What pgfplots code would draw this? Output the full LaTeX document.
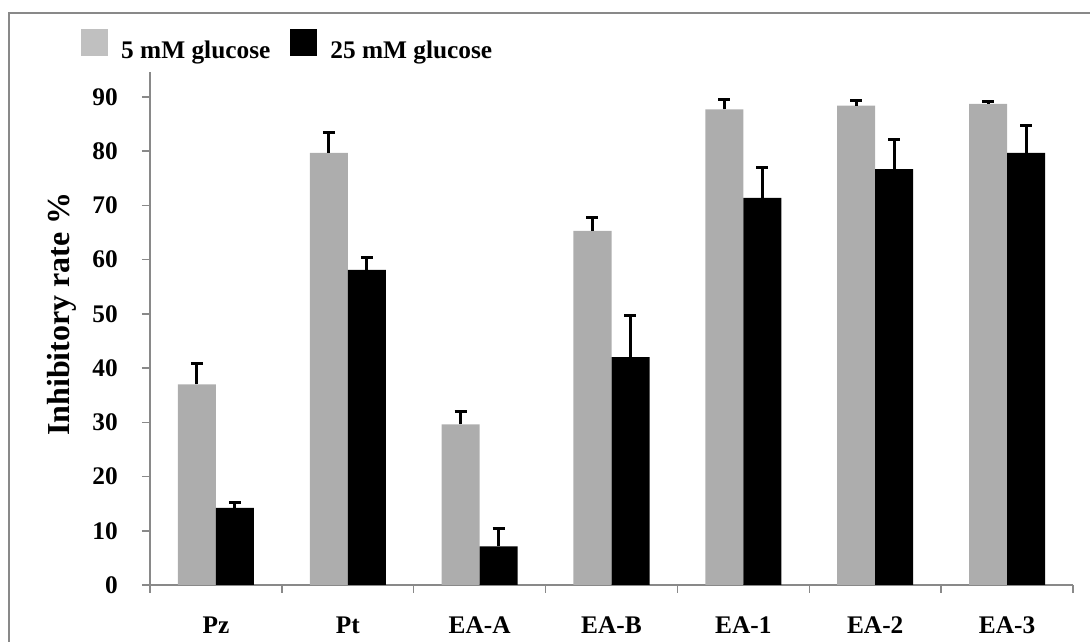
\documentclass[border=0pt]{standalone}
\usepackage{pgfplots}
\pgfplotsset{compat=1.18}
\usepackage{fontspec}
\setmainfont{Liberation Serif}
\definecolor{axgray}{HTML}{898989}
\definecolor{bargray}{HTML}{ADADAD}
\definecolor{leggray}{HTML}{C0C0C0}
\begin{document}
\begin{tikzpicture}
\draw[axgray, line width=1.4pt] (6.75pt,-20pt) -- (6.75pt,471.75pt) -- (830pt,471.75pt);
\begin{axis}[
  at={(112.5pt,42.75pt)}, anchor=south west,
  scale only axis, width=692.25pt, height=384.75pt,
  ybar=0pt, bar width=28.5pt,
  xmin=-0.5, xmax=6.5, ymin=0, ymax=94.6,
  xtick={0,...,6}, xticklabels={Pz,Pt,EA-A,EA-B,EA-1,EA-2,EA-3},
  minor xtick={-0.5,0.5,...,6.5},
  ytick={0,10,...,90},
  axis x line*=bottom, axis y line*=left,
  axis line style={axgray, line width=1.1pt, -},
  tick align=outside, major tick length=6pt, minor tick length=6pt,
  major x tick style={draw=none},
  minor x tick style={axgray, line width=1.1pt},
  ytick style={axgray, line width=1.1pt},
  /pgf/number format/assume math mode=true,
  tick label style={font=\bfseries\fontsize{19}{22}\selectfont, inner sep=0pt},
  yticklabel style={anchor=east, xshift=-18pt},
  xticklabel style={anchor=base, yshift=-30.75pt},
  ylabel={Inhibitory rate \%},
  ylabel style={font=\bfseries\fontsize{24}{28}\selectfont, at={(axis description cs:-0.0953,0.528)}, anchor=center},
  legend style={at={(axis description cs:-0.0748,1.054)}, anchor=west, draw=none, fill=none, inner sep=0pt,
    font=\bfseries\fontsize{19}{22}\selectfont, nodes={inner sep=0pt},
    /tikz/every odd column/.append style={column sep=9.75pt},
    /tikz/every even column/.append style={column sep=15pt}},
  legend columns=2,
  error bars/y dir=plus, error bars/y explicit,
  error bars/error bar style={black, line width=2.25pt},
  error bars/error mark options={black, line width=2.25pt, mark size=4.5pt, rotate=90},
]
\addplot[fill=bargray, draw=none,
  legend image code/.code={\fill[leggray] (0pt,-4pt) rectangle (20.25pt,16.25pt);}]
  coordinates {(0,37.0) +- (0,3.8) (1,79.7) +- (0,3.8) (2,29.6) +- (0,2.4) (3,65.3) +- (0,2.4)
               (4,87.7) +- (0,1.9) (5,88.4) +- (0,0.9) (6,88.7) +- (0,0.5)};
\addlegendentry{5 mM glucose}
\addplot[fill=black, draw=none,
  legend image code/.code={\fill[black] (0pt,-4pt) rectangle (20.25pt,16.25pt);}]
  coordinates {(0,14.2) +- (0,1.05) (1,58.1) +- (0,2.2) (2,7.1) +- (0,3.4) (3,42.0) +- (0,7.7)
               (4,71.4) +- (0,5.6) (5,76.7) +- (0,5.4) (6,79.7) +- (0,5.0)};
\addlegendentry{25 mM glucose}
\end{axis}
\pgfresetboundingbox
\path[use as bounding box] (0pt,0pt) rectangle (817.5pt,481.5pt);
\end{tikzpicture}
\end{document}
